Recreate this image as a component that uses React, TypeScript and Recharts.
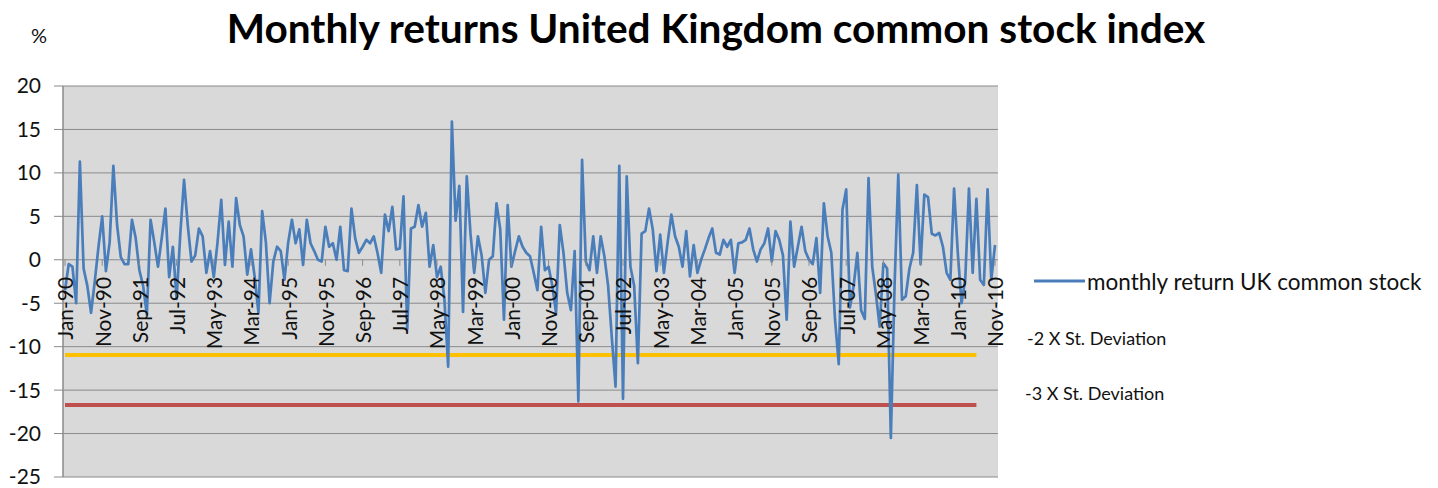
import React from 'react';
import { LineChart, Line, XAxis, YAxis, CartesianGrid } from 'recharts';

// ---------- data ----------
const MONTH_NAMES = ['Jan', 'Feb', 'Mar', 'Apr', 'May', 'Jun', 'Jul', 'Aug', 'Sep', 'Oct', 'Nov', 'Dec'];
const START_YEAR = 1990;

// monthly return UK common stock, %, Jan-90 .. Nov-10
const RETURNS = [
  -3.5, -0.5, -0.8, -5, 11.3, -1, -3, -6.1, -2.5, 1.5,
  5, -1.3, 2, 10.8, 4, 0.3, -0.5, -0.5, 4.6, 2.5,
  -1.2, -3, -6.3, 4.6, 2, -0.8, 2.5, 5.9, -2, 1.5,
  -4.5, 3, 9.2, 4, -0.2, 0.5, 3.6, 2.7, -1.5, 1,
  -2, 2, 6.9, -0.6, 4.4, -0.8, 7.1, 4, 2.7, -1.7,
  1.2, -2, -6.1, 5.6, 2, -5, -0.2, 1.5, 1, -2.3,
  2, 4.6, 1.9, 3.5, -0.6, 4.6, 1.9, 1, 0, -0.2,
  3.8, 1.5, 1.9, 0, 3.8, -1.2, -1.3, 5.9, 2.5, 0.8,
  1.5, 2.3, 1.9, 2.7, 0.8, -1.5, 5.2, 3.3, 6.1, 1.2,
  1.3, 7.3, -8, 3.6, 3.8, 6.3, 3.8, 5.4, -0.8, 1.7,
  -2, -0.8, -4.6, -12.3, 15.9, 4.5, 8.5, -6, 9.6, 3,
  -1.5, 2.7, 0.5, -3.8, 0, 0.4, 6.5, 3.5, -6.9, 6.3,
  -0.8, 1, 2.7, 1.5, 0.8, 0.4, -1.5, -3.5, 3.8, -1.2,
  -0.8, -3, -6.1, 4, 0.8, -3.8, -5.8, 1, -16.3, 11.5,
  -0.2, -1.2, 2.7, -1.5, 2.7, 0.4, -3, -9, -14.6, 10.8,
  -16, 9.6, -0.8, -3, -11.9, 3, 3.3, 5.9, 3.5, -1.3,
  2.9, -1.5, 2, 5.2, 2.7, 1.5, -0.8, 3.3, -1.9, 1.7,
  -1.5, 0, 1.2, 2.5, 3.6, 0.8, 0.6, 2.3, 1.5, 2.3,
  -1.5, 1.9, 2, 2.3, 3.6, 1.2, -0.2, 1.2, 1.9, 3.6,
  -0.2, 3.3, 2.3, 0.5, -6.9, 4.4, -0.8, 1.5, 3.8, 1,
  0, -0.5, 2.5, -3.8, 6.5, 2.7, 0.8, -6.9, -12, 5.8,
  8.1, -5.5, -3, 0.8, -5.8, -6.8, 9.4, -0.8, -4, -7.7,
  -0.4, -1, -20.5, -3, 9.8, -4.6, -4.2, -1, 0.8, 8.6,
  -0.5, 7.5, 7.2, 3, 2.8, 3.1, 1.5, -1.5, -2.3, 8.2,
  0.8, -5, -2.3, 8.2, -1.5, 7, -2.3, -2.9, 8.1, -2.3,
  1.7,
];

const SD2_LEVEL = -10.95; // -2 X St. Deviation
const SD3_LEVEL = -16.7; // -3 X St. Deviation
const SD_LAST_INDEX = 245;

const Y_TICKS = [-25, -20, -15, -10, -5, 0, 5, 10, 15, 20];
const Y_MIN = -25;
const Y_MAX = 20;

const CATEGORIES = RETURNS.map((_, i) => {
  const yr = START_YEAR + Math.floor(i / 12);
  return `${MONTH_NAMES[i % 12]}-${String(yr % 100).padStart(2, '0')}`;
});

const DATA = RETURNS.map((v, i) => ({
  month: CATEGORIES[i],
  ret: v,
  sd2: i <= SD_LAST_INDEX ? SD2_LEVEL : null,
  sd3: i <= SD_LAST_INDEX ? SD3_LEVEL : null,
}));

// ---------- layout ----------
const W = 1438;
const H = 488;
const PLOT_LEFT = 63;
const PLOT_TOP = 86;
const PLOT_RIGHT = 998;
const PLOT_BOTTOM = 477;
const ZERO_Y = PLOT_TOP + ((PLOT_BOTTOM - PLOT_TOP) * (Y_MAX - 0)) / (Y_MAX - Y_MIN);

const FONT = 'Lato, "Open Sans", sans-serif';
const GRID = '#8a8a8a';
const BLUE = '#4A7EBB';
const YELLOW = '#FFC000';
const RED = '#C0504D';

function XTick(props: any) {
  const { x, payload } = props;
  const ty = ZERO_Y + 17;
  return (
    <g>
      <line x1={x} x2={x} y1={ZERO_Y} y2={ZERO_Y + 6} stroke={GRID} strokeWidth={1} />
      <text
        x={x}
        y={ty}
        transform={`rotate(-90 ${x} ${ty})`}
        textAnchor="end"
        dominantBaseline="central"
        fontSize={21}
        fontFamily={FONT}
        fill="#111"
      >
        {payload.value}
      </text>
    </g>
  );
}

export default function App() {
  return (
    <div style={{ position: 'absolute', left: 0, top: 0, width: W, height: H, background: '#fff' }}>
      <LineChart
        width={W}
        height={H}
        data={DATA}
        margin={{ top: PLOT_TOP, right: W - PLOT_RIGHT, bottom: H - PLOT_BOTTOM - 1, left: 0 }}
      >
        <CartesianGrid vertical={false} stroke={GRID} strokeWidth={1} fill="#d9d9d9" fillOpacity={1} />
        <YAxis
          domain={[Y_MIN, Y_MAX]}
          ticks={Y_TICKS}
          width={PLOT_LEFT}
          axisLine={{ stroke: GRID, strokeWidth: 1.5 }}
          tickLine={{ stroke: GRID }}
          tickSize={9}
          tickMargin={13}
          tick={{ fontSize: 21, fontFamily: FONT, fill: '#111' }}
          interval={0}
        />
        <XAxis
          dataKey="month"
          height={1}
          interval={9}
          axisLine={false}
          tickLine={false}
          tick={<XTick />}
          padding={{ left: 2, right: 3 }}
        />
        <Line
          dataKey="sd2"
          stroke={YELLOW}
          strokeWidth={4}
          dot={false}
          isAnimationActive={false}
          connectNulls={false}
        />
        <Line
          dataKey="sd3"
          stroke={RED}
          strokeWidth={4}
          dot={false}
          isAnimationActive={false}
          connectNulls={false}
        />
        <Line
          dataKey="ret"
          stroke={BLUE}
          strokeWidth={2.7}
          strokeLinejoin="round"
          dot={false}
          isAnimationActive={false}
        />
      </LineChart>
      <svg
        width={W}
        height={H}
        style={{ position: 'absolute', left: 0, top: 0, pointerEvents: 'none' }}
      >
        <text x={716} y={43} textAnchor="middle" fontSize={40.6} fontWeight={700} fontFamily={FONT} fill="#000">
          Monthly returns United Kingdom common stock index
        </text>
        <text x={39} y={43} textAnchor="middle" fontSize={20} fontFamily={FONT} fill="#111">
          %
        </text>
        <line x1={1034} x2={1085} y1={281} y2={281} stroke={BLUE} strokeWidth={3} />
        <text x={1087} y={281} dominantBaseline="central" fontSize={22.5} fontFamily={FONT} fill="#111">
          monthly return UK common stock
        </text>
        <text x={1027} y={338} dominantBaseline="central" fontSize={18} fontFamily={FONT} fill="#111">
          -2 X St. Deviation
        </text>
        <text x={1025} y={393} dominantBaseline="central" fontSize={18} fontFamily={FONT} fill="#111">
          -3 X St. Deviation
        </text>
      </svg>
    </div>
  );
}
